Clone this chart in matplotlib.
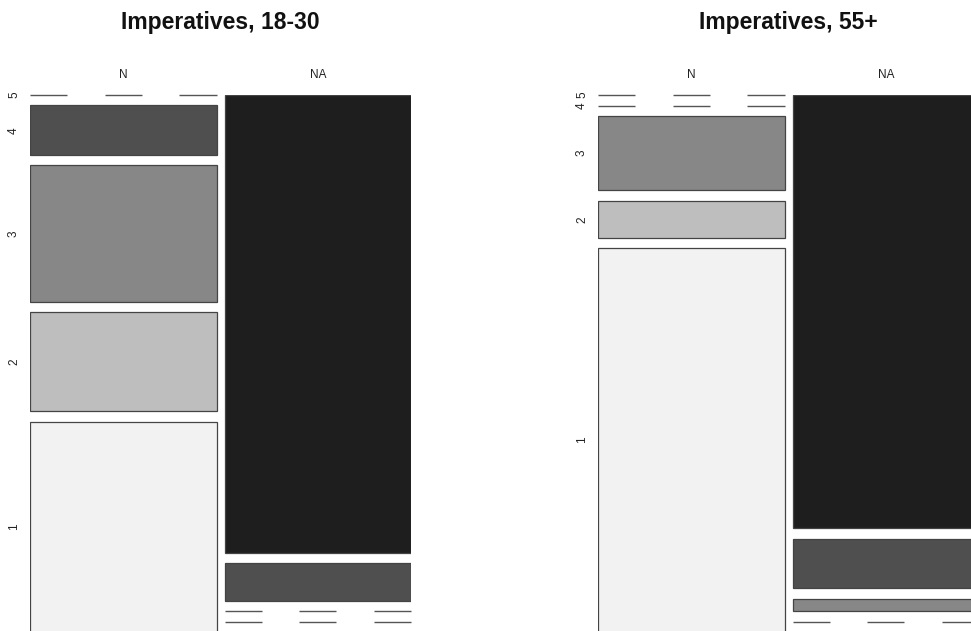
import matplotlib
matplotlib.use("Agg")
import matplotlib.pyplot as plt
from matplotlib.patches import Rectangle

plt.rcParams['font.family'] = ['Liberation Sans', 'DejaVu Sans']

# Response levels (drawn top to bottom: 5 ... 1) and column groups
levels = ["1", "2", "3", "4", "5"]
groups = ["N", "NA"]

# Counts per level for each group, 18-30 panel
young_N = [17, 8, 11, 4, 0]
young_NA = [0, 0, 0, 3, 37]

# Counts per level for each group, 55+ panel
old_N = [31, 3, 6, 0, 0]
old_NA = [0, 0, 1, 4, 35]

titles = ["Imperatives, 18-30", "Imperatives, 55+"]
level_colors = ["#F2F2F2", "#BEBEBE", "#878787", "#4F4F4F", "#1E1E1E"]

W, H = 971, 631
fig = plt.figure(figsize=(W / 100, H / 100), dpi=100)

GAP_X = 8 / 381
GAP_Y = 10.5 / 537


def mosaic(ax, columns, title):
    ax.set_xlim(0, 1)
    ax.set_ylim(0, 1)
    ax.axis("off")
    totals = [sum(c) for c in columns]
    grand = sum(totals)
    avail_x = 1 - GAP_X * (len(columns) - 1)
    x0 = 0.0
    for j, (counts, tot) in enumerate(zip(columns, totals)):
        w = tot / grand * avail_x
        avail_y = 1 - GAP_Y * (len(counts) - 1)
        ytop = 1.0
        for i in reversed(range(len(counts))):
            h = counts[i] / tot * avail_y
            if counts[i] == 0:
                # empty cell: dashed rule across the column
                for a, b in [(0, 0.2), (0.4, 0.6), (0.8, 1.0)]:
                    ax.plot([x0 + a * w, x0 + b * w], [ytop, ytop],
                            color="#555555", lw=1.0, solid_capstyle="butt",
                            clip_on=False)
                yc = ytop
            else:
                ax.add_patch(Rectangle((x0, ytop - h), w, h,
                                       facecolor=level_colors[i],
                                       edgecolor="#444444", lw=0.9,
                                       clip_on=True))
                yc = ytop - h / 2
            if j == 0:
                ax.text(-16 / 381, yc, levels[i], rotation=90,
                        ha="center", va="center", fontsize=8.5,
                        color="#222222", clip_on=False)
            ytop -= h + GAP_Y
        ax.text(x0 + w / 2, 1 + 20 / 537, groups[j], ha="center",
                va="center", fontsize=8.5, color="#222222")
        x0 += w + GAP_X
    ax.text(0.5, 1 + 73 / 537, title, ha="center", va="center",
            fontsize=16.5, fontweight="bold", color="#111111")


panels = [([young_N, young_NA], 30), ([old_N, old_NA], 598)]
for (cols, left), title in zip(panels, titles):
    ax = fig.add_axes([left / W, (H - 632) / H, 381 / W, 537 / H])
    mosaic(ax, cols, title)

fig.savefig("out.png", dpi=100, facecolor="white")
